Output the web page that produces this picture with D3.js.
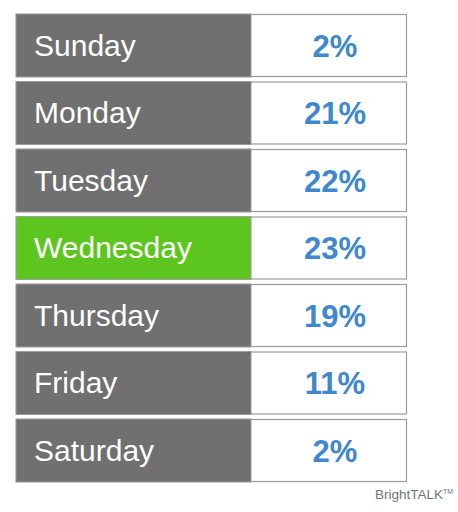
<!DOCTYPE html>
<html>
<head>
<meta charset="utf-8">
<script src="https://cdn.jsdelivr.net/npm/d3@7"></script>
<style>
  body { margin: 0; background: #fff; }
  svg { display: block; }
</style>
</head>
<body>
<div id="chart"></div>
<script>
// data
var days = ["Sunday", "Monday", "Tuesday", "Wednesday", "Thursday", "Friday", "Saturday"];
var shares = [2, 21, 22, 23, 19, 11, 2];
var highlightDay = "Wednesday";

var W = 458, H = 512;
var left = 16, split = 251, right = 407;

var svg = d3.select("#chart")
    .append("svg")
    .attr("width", W)
    .attr("height", H);

var rows = days.map(function (d, i) { return { day: d, share: shares[i] }; });

// one band per row
var y = d3.scaleBand()
    .domain(days)
    .range([14, 482])
    .paddingInner(0.0667)
    .paddingOuter(0);

var fmt = function (v) { return v + "%"; };

var g = svg.selectAll(".row")
    .data(rows)
    .enter().append("g")
    .attr("class", "row")
    .attr("transform", function (d) { return "translate(0," + y(d.day) + ")"; });

// white value cell + outline
g.append("rect")
    .attr("x", left + 0.5)
    .attr("y", 0.5)
    .attr("width", right - left - 1)
    .attr("height", y.bandwidth() - 1)
    .style("fill", "#fff")
    .style("stroke", "#9c9c9c")
    .style("stroke-width", 1.2);

// label cell
g.append("rect")
    .attr("x", left)
    .attr("y", 0)
    .attr("width", split - left)
    .attr("height", y.bandwidth())
    .style("fill", function (d) { return d.day === highlightDay ? "#5cc61e" : "#707070"; })
    .style("stroke", "#9c9c9c")
    .style("stroke-width", 1);

g.append("text")
    .attr("x", 34)
    .attr("y", y.bandwidth() / 2 + 10.5)
    .style("font-family", "Liberation Sans, Arial, sans-serif")
    .style("font-size", "30px")
    .style("fill", "#fff")
    .text(function (d) { return d.day; });

g.append("text")
    .attr("x", 335)
    .attr("y", y.bandwidth() / 2 + 11.5)
    .style("text-anchor", "middle")
    .style("font-family", "Liberation Sans, Arial, sans-serif")
    .style("font-size", "31px")
    .style("font-weight", "bold")
    .style("fill", "#3f88cb")
    .text(function (d) { return fmt(d.share); });

// footer
var foot = svg.append("text")
    .attr("x", 375)
    .attr("y", 499)
    .style("font-family", "Liberation Sans, Arial, sans-serif")
    .style("font-size", "13.5px")
    .style("fill", "#6f7680")
    .text("BrightTALK");
foot.append("tspan")
    .attr("dy", -5)
    .style("font-size", "7px")
    .text("TM");
</script>
</body>
</html>
